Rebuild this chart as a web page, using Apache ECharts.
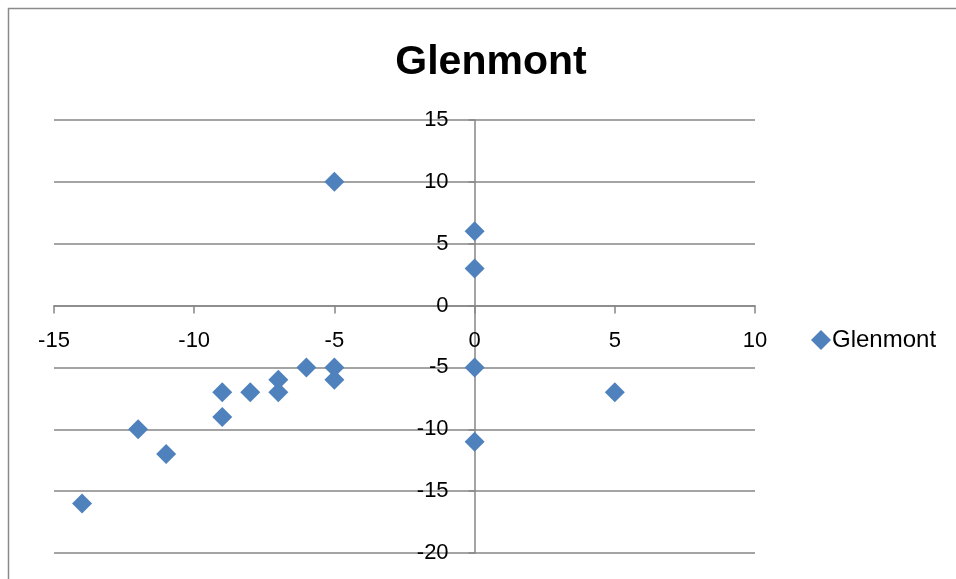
<!DOCTYPE html>
<html>
<head>
<meta charset="utf-8">
<script src="https://cdn.jsdelivr.net/npm/echarts@6/dist/echarts.min.js"></script>
<style>
  html, body { margin: 0; padding: 0; background: #fff; }
  #chart { width: 956px; height: 579px; }
</style>
</head>
<body>
<div id="chart"></div>
<script>
// Glenmont scatter: x and y value pairs
const seriesName = 'Glenmont';
const xValues = [-5, 0, 0, 0, 0, 5, -14, -12, -11, -9, -9, -8, -7, -7, -6, -5, -5];
const yValues = [10, 6, 3, -5, -11, -7, -16, -10, -12, -7, -9, -7, -6, -7, -5, -5, -6];

const xRange = { min: -15, max: 10, interval: 5 };
const yRange = { min: -20, max: 15, interval: 5 };

const points = xValues.map((x, i) => [x, yValues[i]]);

const font = 'Liberation Sans, Arial, sans-serif';
const axisGray = '#868686';

const chart = echarts.init(document.getElementById('chart'), null, { renderer: 'canvas' });
chart.setOption({
  backgroundColor: '#ffffff',
  animation: false,
  title: {
    text: seriesName,
    left: 486,
    top: 37,
    textAlign: 'center',
    textStyle: { fontFamily: font, fontWeight: 'bold', fontSize: 41, color: '#000' }
  },
  legend: {
    left: 806,
    top: 323,
    orient: 'vertical',
    itemWidth: 20,
    itemHeight: 20,
    itemGap: 4,
    icon: 'diamond',
    textStyle: { fontFamily: font, fontSize: 24, color: '#000', padding: [0, 0, 0, -4] },
    data: [seriesName]
  },
  grid: { left: 54, right: 201, top: 120, bottom: 26, containLabel: false, outerBoundsMode: 'none' },
  xAxis: {
    type: 'value',
    position: 'bottom',
    min: xRange.min, max: xRange.max, interval: xRange.interval,
    axisLine: { onZero: false, lineStyle: { color: axisGray, width: 1.5 } },
    axisTick: { show: true, inside: false, length: 8, lineStyle: { color: axisGray, width: 1.5 } },
    axisLabel: { fontFamily: font, fontSize: 22, color: '#000', margin: 24 },
    splitLine: { show: false }
  },
  yAxis: {
    type: 'value',
    position: 'left',
    min: yRange.min, max: yRange.max, interval: yRange.interval,
    axisLine: { onZero: false, lineStyle: { color: axisGray, width: 1.5 } },
    axisTick: { show: true, inside: false, length: 6, lineStyle: { color: axisGray, width: 1.5 } },
    axisLabel: { fontFamily: font, fontSize: 22, color: '#000', margin: 26 },
    splitLine: { show: true, lineStyle: { color: axisGray, width: 1.5 } }
  },
  graphic: [{
    type: 'rect',
    left: 6, top: 6,
    shape: { width: 1000, height: 700 },
    style: { fill: 'none', stroke: '#8a8a8a', lineWidth: 1.5 },
    silent: true,
    z: -1
  }],
  series: [{
    name: seriesName,
    type: 'scatter',
    symbol: 'diamond',
    symbolSize: 20,
    itemStyle: { color: '#4F81BD', opacity: 1 },
    data: points
  }]
});

// Move both axes so they cross at the origin, using the chart's own scales.
const origin = chart.convertToPixel({ gridIndex: 0 }, [0, 0]);
const corner = chart.convertToPixel({ gridIndex: 0 }, [xRange.min, yRange.min]);
chart.setOption({
  xAxis: { offset: -(corner[1] - origin[1]) },
  yAxis: { offset: -(origin[0] - corner[0]) }
});
</script>
</body>
</html>
